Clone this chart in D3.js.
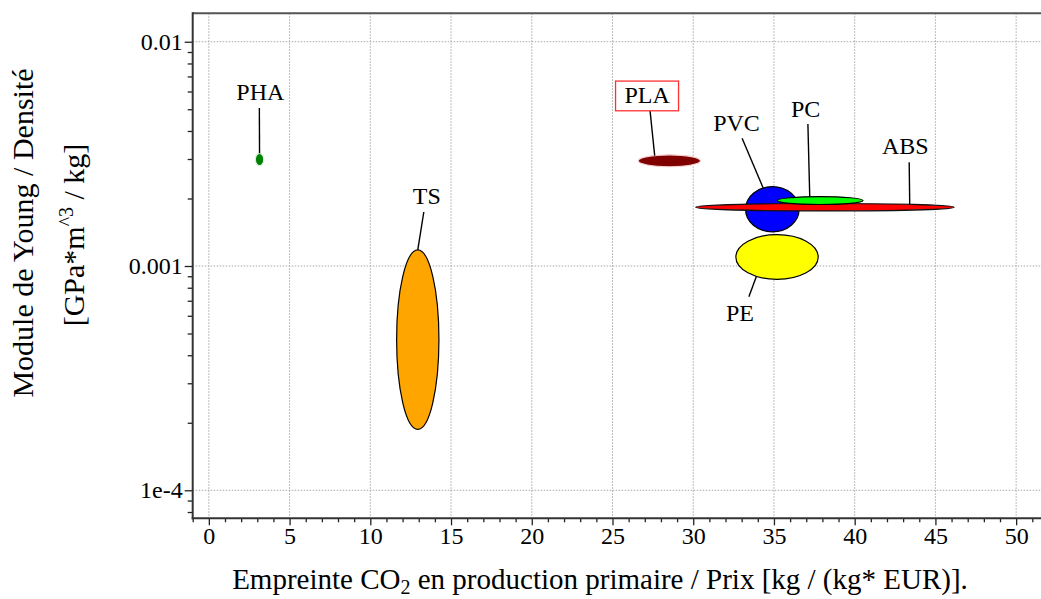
<!DOCTYPE html>
<html><head><meta charset="utf-8">
<script src="https://cdn.jsdelivr.net/npm/d3@7/dist/d3.min.js"></script>
<style>html,body{margin:0;padding:0;background:#fff;overflow:hidden}</style>
</head><body>
<svg id="chart" width="1041" height="599"></svg>
<script>
// ---------- data ----------
const materials = ["PHA", "TS", "PLA", "PE", "PVC", "ABS", "PC"];
// Empreinte CO2 / Prix range (kg / (kg*EUR))
const xMin = [2.88, 11.63, 26.59, 32.64, 33.24, 30.16, 35.20];
const xMax = [3.40, 14.25, 30.45, 37.74, 36.56, 46.16, 40.52];
// Module de Young / Densite range (GPa*m^3/kg)
const yMin = [2.80e-3, 1.87e-4, 2.77e-3, 8.72e-4, 1.42e-3, 1.76e-3, 1.88e-3];
const yMax = [3.18e-3, 1.18e-3, 3.13e-3, 1.38e-3, 2.26e-3, 1.90e-3, 2.04e-3];
// label anchor positions (data units)
const labelX = [3.19, 13.50, 27.14, 32.89, 32.68, 43.14, 36.96];
const labelY = [5.50e-3, 1.89e-3, 5.31e-3, 5.70e-4, 4.00e-3, 3.16e-3, 4.63e-3];
// axis ticks
const xTicks = [0, 5, 10, 15, 20, 25, 30, 35, 40, 45, 50];
const yTicks = [1e-4, 1e-3, 1e-2];
const yTickLabels = ["1e-4", "0.001", "0.01"];

// ---------- styles / layout (not data) ----------
const fills   = ["#008000", "#ffa500", "#800000", "#ffff00", "#0000ff", "#ff0000", "#00ff00"];
const strokes = ["#d8f0d8", "#000000", "#f4d0d0", "#000000", "#000000", "#111111", "#000000"];
// leader: start offset from label anchor (px) and end angle on ellipse (deg)
const leadDX = [-1, -3, 3, 9, 5.6, 3.8, 2.3];
const leadDY = [8, 8, 7.4, -24, 7.3, 8.3, 7.3];
const leadAng = [90, 90, 118, 240, 110, 49, 104];
const boxed = [false, false, true, false, false, false, false];

const FONT = "'Liberation Serif','Times New Roman',Times,serif";
const svg = d3.select("#chart");
const W = 1041, H = 599;
const pLeft = 192.7, pTop = 13.3, pBottom = 518.3;

const x = d3.scaleLinear().domain([-1, 51.5]).range([pLeft, pLeft + 52.5 * 16.146]);
const y = d3.scaleLog().domain([7.5e-5, 0.01339]).range([pBottom, pTop]);

// grid
const grid = svg.append("g").attr("stroke", "#a8a8a8").attr("stroke-width", 1)
  .attr("stroke-dasharray", "1.5,1.5").attr("fill", "none");
grid.selectAll("line.v").data(xTicks).join("line").attr("class", "v")
  .attr("x1", d => x(d)).attr("x2", d => x(d)).attr("y1", pTop).attr("y2", pBottom);
grid.selectAll("line.h").data(yTicks).join("line").attr("class", "h")
  .attr("x1", pLeft).attr("x2", W).attr("y1", d => y(d)).attr("y2", d => y(d));

// axes
const xMinor = d3.range(-1, 52).filter(v => v % 5 !== 0);
const yMinor = [];
[1e-5, 1e-4, 1e-3, 1e-2].forEach(dec => { for (let k = 2; k <= 9; k++) { const v = k * dec; if (v >= 7.5e-5 && v <= 0.01339) yMinor.push(v); } });

const gx = svg.append("g").attr("transform", `translate(0,${pBottom})`)
  .call(d3.axisBottom(x).tickValues(xTicks).tickSize(7).tickSizeOuter(0).tickPadding(2).tickFormat(d3.format("d")));
svg.append("g").attr("transform", `translate(0,${pBottom})`)
  .call(d3.axisBottom(x).tickValues(xMinor).tickSize(4).tickSizeOuter(0).tickFormat(""));
const gy = svg.append("g").attr("transform", `translate(${pLeft},0)`)
  .call(d3.axisLeft(y).tickValues(yTicks).tickSize(8).tickSizeOuter(0).tickPadding(2)
    .tickFormat(d => yTickLabels[yTicks.indexOf(d)]));
svg.append("g").attr("transform", `translate(${pLeft},0)`)
  .call(d3.axisLeft(y).tickValues(yMinor).tickSize(5).tickSizeOuter(0).tickFormat(""));

svg.selectAll(".domain").remove();
svg.selectAll(".tick line").attr("stroke", "#222").attr("stroke-width", 1.3);
[gx, gy].forEach(g => g.selectAll("text").attr("font-family", FONT).attr("font-size", 24).attr("fill", "#000"));

// frame lines
svg.append("line").attr("x1", pLeft).attr("x2", W).attr("y1", pTop).attr("y2", pTop)
  .attr("stroke", "#555").attr("stroke-width", 2);
svg.append("line").attr("x1", pLeft).attr("x2", pLeft).attr("y1", pTop - 1).attr("y2", pBottom + 1)
  .attr("stroke", "#333").attr("stroke-width", 2);
svg.append("line").attr("x1", pLeft - 1).attr("x2", W).attr("y1", pBottom).attr("y2", pBottom)
  .attr("stroke", "#333").attr("stroke-width", 2);

// ellipses
const items = materials.map((m, i) => {
  const cx = (x(xMin[i]) + x(xMax[i])) / 2, rx = (x(xMax[i]) - x(xMin[i])) / 2;
  const cy = (y(yMin[i]) + y(yMax[i])) / 2, ry = (y(yMin[i]) - y(yMax[i])) / 2;
  return {m, i, cx, cy, rx, ry};
});
svg.append("g").selectAll("ellipse").data(items).join("ellipse")
  .attr("cx", d => d.cx).attr("cy", d => d.cy).attr("rx", d => d.rx).attr("ry", d => d.ry)
  .attr("fill", d => fills[d.i]).attr("stroke", d => strokes[d.i]).attr("stroke-width", 1.2);

// leaders
svg.append("g").selectAll("line").data(items).join("line")
  .attr("x1", d => x(labelX[d.i]) + leadDX[d.i]).attr("y1", d => y(labelY[d.i]) + leadDY[d.i])
  .attr("x2", d => d.cx + d.rx * Math.cos(leadAng[d.i] * Math.PI / 180))
  .attr("y2", d => d.cy - d.ry * Math.sin(leadAng[d.i] * Math.PI / 180))
  .attr("stroke", "#000").attr("stroke-width", 1.4);

// labels
const lab = svg.append("g");
items.filter(d => boxed[d.i]).forEach(d => {
  lab.append("rect").attr("x", x(labelX[d.i]) - 31.5).attr("y", y(labelY[d.i]) - 22.3)
    .attr("width", 63).attr("height", 29.7).attr("fill", "#fff").attr("stroke", "#ff3030").attr("stroke-width", 1.3);
});
lab.selectAll("text").data(items).join("text")
  .attr("x", d => x(labelX[d.i])).attr("y", d => y(labelY[d.i]))
  .attr("text-anchor", "middle").attr("font-family", FONT).attr("font-size", 24)
  .text(d => d.m);

// axis titles
const xt = svg.append("text").attr("x", 600).attr("y", 589).attr("text-anchor", "middle")
  .attr("font-family", FONT).attr("font-size", 29);
xt.append("tspan").text("Empreinte CO");
xt.append("tspan").attr("font-size", 20).attr("dy", 5).text("2");
xt.append("tspan").attr("dy", -5).text(" en production primaire / Prix [kg / (kg* EUR)].");

svg.append("text").attr("transform", "translate(33,233) rotate(-90)").attr("text-anchor", "middle")
  .attr("font-family", FONT).attr("font-size", 30).text("Module de Young / Densité");
const yt2 = svg.append("text").attr("transform", "translate(84,235) rotate(-90)").attr("text-anchor", "middle")
  .attr("font-family", FONT).attr("font-size", 30);
yt2.append("tspan").text("[GPa*m");
yt2.append("tspan").attr("font-size", 20).attr("dy", -11).text("^3");
yt2.append("tspan").attr("dy", 11).text(" / kg]");
</script>
</body></html>
